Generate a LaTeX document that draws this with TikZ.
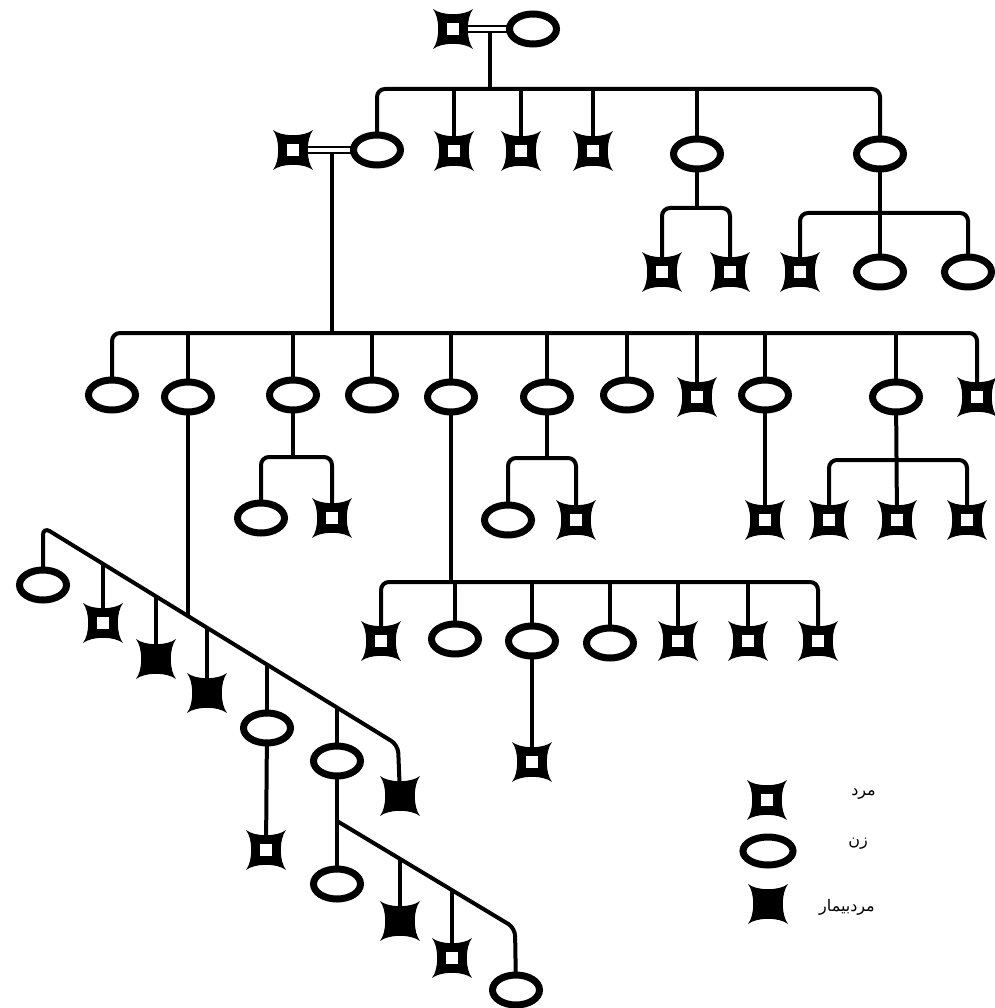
\documentclass[tikz,border=0pt]{standalone}
\usepackage{fontspec}
\newfontfamily\arabicfont[Script=Arabic]{DejaVu Sans}
\TeXXeTstate=1
\usetikzlibrary{shapes.geometric}
\pgfdeclarelayer{bg}
\pgfsetlayers{bg,main}
\newcommand\pedmalebody{\fill[shift={(path picture bounding box.center)}] (-20pt,-20pt) .. controls (-11pt,-13pt) and (11pt,-13pt) .. (20pt,-20pt) .. controls (13pt,-11pt) and (13pt,11pt) .. (20pt,20pt) .. controls (11pt,13pt) and (-11pt,13pt) .. (-20pt,20pt) .. controls (-13pt,11pt) and (-13pt,-11pt) .. cycle;}
\newcommand\pedmalehole{\fill[white,shift={(path picture bounding box.center)}] (-6pt,-6pt) rectangle (6pt,6pt);}
\tikzset{
 male/.style={rectangle,minimum size=40pt,inner sep=0pt,outer sep=0pt,path picture={\pedmalebody\pedmalehole}},
 sick/.style={rectangle,minimum size=40pt,inner sep=0pt,outer sep=0pt,path picture={\pedmalebody}},
 fem/.style={ellipse,draw,line width=7pt,fill=white,minimum width=47pt,minimum height=30pt,inner sep=0pt},
 con/.style={line width=4pt},
 bar/.style={line width=4pt,rounded corners=8pt},
 marr/.style={double,double distance=3.5pt,line width=2.2pt},
 lbl/.style={anchor=east,inner sep=0pt,font=\arabicfont\fontsize{16}{18}\selectfont}
}
\begin{document}
\begin{tikzpicture}[x=1pt,y=-1pt]
\useasboundingbox (0,0) rectangle (994,1008);
% generation I
\node[male] (I1) at (453,29) {};
\node[fem] (I2) at (533,29) {};
\coordinate (m1) at (490,29);
\coordinate (b1) at (490,89);
% generation II
\node[male] (II1) at (293,150) {};
\node[fem] (II2) at (377,150) {};
\node[male] (II3) at (454,151) {};
\node[male] (II4) at (521,151) {};
\node[male] (II5) at (593,151) {};
\node[fem] (II6) at (697,154) {};
\node[fem] (II7) at (880,154) {};
\coordinate (m2) at (332,150);
% children of II6, II7
\coordinate (b6) at (697,208);
\node[male] (IIIa) at (662,272) {};
\node[male] (IIIb) at (730,272) {};
\coordinate (b7) at (880,213);
\node[male] (IIIc) at (800,272) {};
\node[fem] (IIId) at (880,272) {};
\node[fem] (IIIe) at (968,272) {};
% generation III main
\coordinate (b2) at (332,333);
\node[fem] (c1) at (112,395) {};
\node[fem] (c2) at (188,397) {};
\node[fem] (c3) at (293,395) {};
\node[fem] (c4) at (372,395) {};
\node[fem] (c5) at (451,397) {};
\node[fem] (c6) at (547,397) {};
\node[fem] (c7) at (627,395) {};
\node[male] (c8) at (697,397) {};
\node[fem] (c9) at (765,395) {};
\node[fem] (c10) at (896,397) {};
\node[male] (c11) at (977,397) {};
% generation IV
\coordinate (b3) at (293,457);
\node[fem] (g31) at (261,518) {};
\node[male] (g32) at (332,518) {};
\coordinate (b6b) at (547,458);
\node[fem] (g61) at (508,520) {};
\node[male] (g62) at (576,520) {};
\node[male] (g91) at (765,520) {};
\coordinate (b10) at (896,460);
\node[male] (g101) at (829,520) {};
\node[male] (g102) at (897,520) {};
\node[male] (g103) at (967,520) {};
\coordinate (b5) at (451,582);
\node[male] (h1) at (381,641) {};
\node[fem] (h2) at (455,639) {};
\node[fem] (h3) at (532,641) {};
\node[fem] (h4) at (610,643) {};
\node[male] (h5) at (678,641) {};
\node[male] (h6) at (748,641) {};
\node[male] (h7) at (818,641) {};
\node[male] (k1) at (532,762) {};
% diagonal family of c2
\coordinate (dA) at (43,527);
\coordinate (dB) at (398,745);
\coordinate (j0) at (188,616);
\node[fem] (d1) at (43,585) {};
\node[male] (d2) at (103,623) {};
\node[sick] (d3) at (156,659) {};
\node[sick] (d4) at (207,693) {};
\node[fem] (d5) at (267,728) {};
\node[fem] (d6) at (337,761) {};
\node[sick] (d7) at (400,796) {};
\coordinate (j2) at (103,563.8);
\coordinate (j3) at (156,596.4);
\coordinate (j4) at (207,627.7);
\coordinate (j5) at (267,664.5);
\coordinate (j6) at (337,707.5);
\node[male] (f5) at (266,850) {};
% diagonal family of d6
\coordinate (eA) at (337,821);
\coordinate (eB) at (515,928);
\node[fem] (e1) at (337,884) {};
\node[sick] (e2) at (400,921) {};
\node[male] (e3) at (452,958) {};
\node[fem] (e4) at (516,990) {};
\coordinate (k2) at (400,858.9);
\coordinate (k3) at (452,890.1);
% legend
\node[male] (L1) at (767,800) {};
\node[fem,minimum width=50pt,minimum height=28pt] (L2) at (768,851) {};
\node[sick] (L3) at (768,904) {};
\node[lbl] (t1) at (876,794) {\beginR مرد\endR};
\node[lbl] (t2) at (868,844) {\beginR زن\endR};
\node[lbl] (t3) at (875,907) {\beginR مردبیمار\endR};
\begin{pgfonlayer}{bg}
\draw[con] (m1) -- (b1);
\draw[marr] (I1.center) -- (I2.center);
\draw[bar] (II2.center) |- (b1) -| (II7.center);
\foreach \n in {II3,II4,II5,II6} \draw[con] (\n.center) -- (\n.center |- b1);
\draw[con] (II6.center) -- (b6);
\draw[bar] (IIIa.center) |- (b6) -| (IIIb.center);
\draw[con] (II7.center) -- (IIId.center);
\draw[bar] (IIIc.center) |- (b7) -| (IIIe.center);
\draw[con] (m2) -- (b2);
\draw[marr] (II1.center) -- (II2.center);
\draw[bar] (c1.center) |- (b2) -| (c11.center);
\foreach \n in {c2,c3,c4,c5,c6,c7,c8,c9,c10} \draw[con] (\n.center) -- (\n.center |- b2);
\draw[con] (c3.center) -- (b3);
\draw[bar] (g31.center) |- (b3) -| (g32.center);
\draw[con] (c6.center) -- (b6b);
\draw[bar] (g61.center) |- (b6b) -| (g62.center);
\draw[con] (c9.center) -- (g91.center);
\draw[con] (c10.center) -- (g102.center);
\draw[bar] (g101.center) |- (b10) -| (g103.center);
\draw[con] (c5.center) -- (b5);
\draw[bar] (h1.center) |- (b5) -| (h7.center);
\foreach \n in {h2,h3,h4,h5,h6} \draw[con] (\n.center) -- (\n.center |- b5);
\draw[con] (h3.center) -- (k1.center);
\draw[con] (c2.center) -- (j0);
\draw[bar] (d1.center) -- (dA) -- (dB) -- (d7.center);
\draw[con] (d2.center) -- (j2);
\draw[con] (d3.center) -- (j3);
\draw[con] (d4.center) -- (j4);
\draw[con] (d5.center) -- (j5);
\draw[con] (d6.center) -- (j6);
\draw[con] (d5.center) -- (f5.center);
\draw[con] (d6.center) -- (e1.center);
\draw[bar] (eA) -- (eB) -- (e4.center);
\draw[con] (e2.center) -- (k2);
\draw[con] (e3.center) -- (k3);
\end{pgfonlayer}
\end{tikzpicture}
\end{document}
